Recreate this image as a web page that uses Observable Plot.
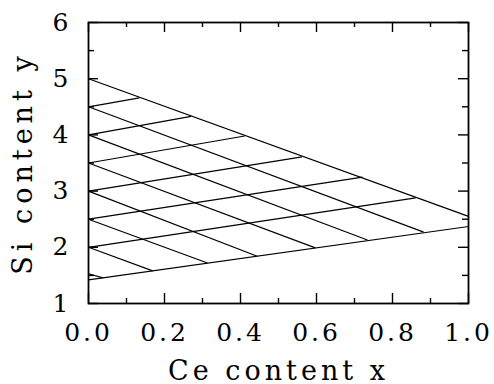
<!DOCTYPE html>
<html><head><meta charset="utf-8">
<script src="https://cdn.jsdelivr.net/npm/d3@7"></script>
<script src="https://cdn.jsdelivr.net/npm/@observablehq/plot@0.6"></script>
<style>
body{margin:0;background:#fff;}
svg text{font-family:"DejaVu Serif",serif;}
</style></head><body><div id="chart"></div>
<script>
// axis ticks
const xMajor = [0, 0.2, 0.4, 0.6, 0.8, 1.0];
const xMinor = [0.1, 0.3, 0.5, 0.7, 0.9];
const yMajor = [1, 2, 3, 4, 5, 6];
const yMinor = [1.5, 2.5, 3.5, 4.5, 5.5];

// boundary lines of the region
const boundaryX1 = [0, 0];
const boundaryY1 = [5.0, 1.42];
const boundaryX2 = [1, 1];
const boundaryY2 = [2.55, 2.37];

// lines rising from the left edge to the upper boundary
const riseStartY = [2.0, 2.5, 3.0, 3.5, 4.0, 4.5];
const riseEndX   = [0.861, 0.721, 0.562, 0.411, 0.270, 0.134];
const riseEndY   = [2.88, 3.25, 3.61, 3.98, 4.33, 4.66];

// lines falling from the left edge to the lower boundary
const fallStartY = [1.53, 2.0, 2.5, 3.0, 3.5, 4.0, 4.5];
const fallEndX   = [0.038, 0.169, 0.313, 0.444, 0.597, 0.734, 0.882];
const fallEndY   = [1.456, 1.58, 1.72, 1.84, 1.99, 2.13, 2.27];

const segments = [
  ...boundaryX1.map((x, i) => ({x1: x, y1: boundaryY1[i], x2: boundaryX2[i], y2: boundaryY2[i]})),
  ...riseStartY.map((y, i) => ({x1: 0, y1: y, x2: riseEndX[i], y2: riseEndY[i]})),
  ...fallStartY.map((y, i) => ({x1: 0, y1: y, x2: fallEndX[i], y2: fallEndY[i]}))
];

const W = 494, H = 384, ML = 88, MR = 26, MT = 22, MB = 81;
const FW = W - ML - MR, FH = H - MT - MB;
const tk = {stroke: "black", strokeWidth: 1.4};

const chart = Plot.plot({
  width: W, height: H,
  marginLeft: ML, marginRight: MR, marginTop: MT, marginBottom: MB,
  style: {fontFamily: "DejaVu Serif, serif", fontSize: "25px", color: "black", background: "white"},
  x: {domain: [0, 1]},
  y: {domain: [1, 6]},
  marks: [
    Plot.link(segments, {x1: "x1", y1: "y1", x2: "x2", y2: "y2", stroke: "black", strokeWidth: 1.2}),
    Plot.frame({stroke: "black", strokeWidth: 1.8}),
    // inward ticks, bottom and top
    Plot.tickX(xMajor, {...tk, x: d => d, insetTop: FH - 10}),
    Plot.tickX(xMinor, {...tk, x: d => d, insetTop: FH - 5}),
    Plot.tickX(xMajor, {...tk, x: d => d, insetBottom: FH - 10}),
    Plot.tickX(xMinor, {...tk, x: d => d, insetBottom: FH - 5}),
    // inward ticks, left and right
    Plot.tickY(yMajor, {...tk, y: d => d, insetRight: FW - 10}),
    Plot.tickY(yMinor, {...tk, y: d => d, insetRight: FW - 6}),
    Plot.tickY(yMajor, {...tk, y: d => d, insetLeft: FW - 10}),
    Plot.tickY(yMinor, {...tk, y: d => d, insetLeft: FW - 6}),
    Plot.axisX({ticks: xMajor, tickSize: 0, tickPadding: 20, tickFormat: d3.format(".1f"),
      label: "Ce content x", labelAnchor: "center", labelArrow: "none", labelOffset: 76, fontSize: 25}),
    Plot.axisY({ticks: yMajor, tickSize: 0, tickPadding: 20, tickFormat: d3.format("d"),
      label: "Si content y", labelAnchor: "center", labelArrow: "none", labelOffset: 76, fontSize: 25})
  ]
});
document.getElementById("chart").appendChild(chart);
const svg = d3.select(chart);
svg.selectAll("g[aria-label='x-axis tick label'] text").style("letter-spacing", "3px");
svg.selectAll("g[aria-label='x-axis label'] text").style("font-size", "27px").style("letter-spacing", "4px");
svg.selectAll("g[aria-label='y-axis label'] text").style("font-size", "27px").style("letter-spacing", "5px");
</script></body></html>
